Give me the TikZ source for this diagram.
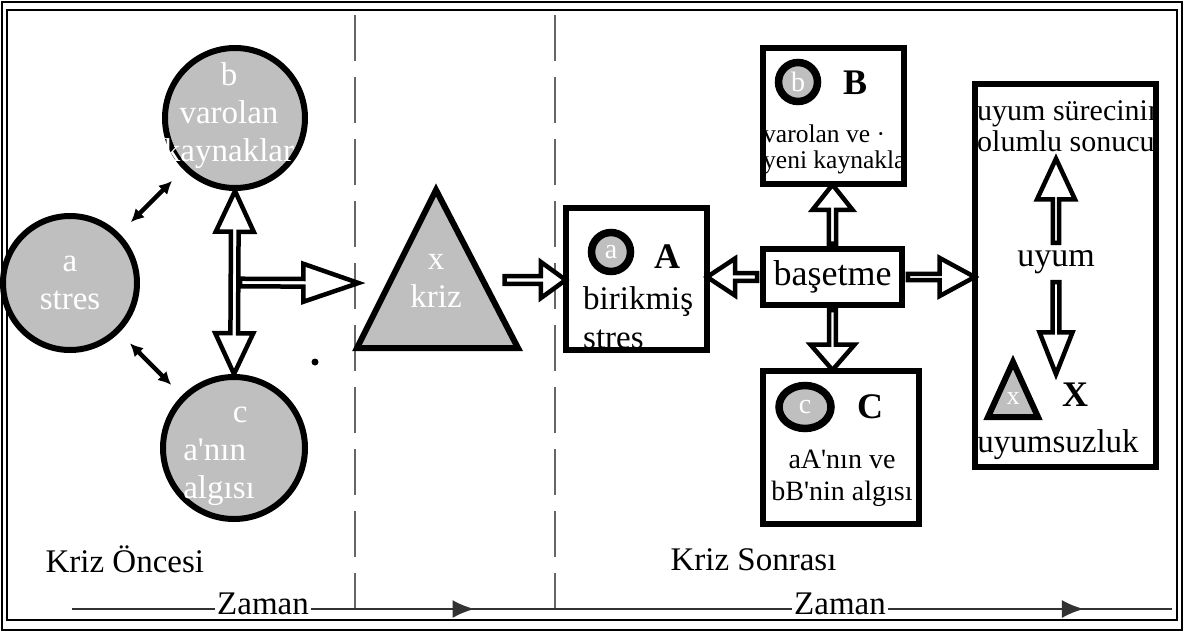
\documentclass[tikz,border=0pt]{standalone}
\usepackage{fontspec}
\setmainfont{Liberation Serif}
\usepackage{tikz}
\usetikzlibrary{shapes.geometric, shapes.arrows, arrows.meta, decorations.markings, calc, positioning}

\newcommand{\apos}{\textquotesingle}

% mũi tên rỗng nối hai điểm
\newcommand{\blockarrow}[3][]{%
  \path let \p1=(#2), \p2=(#3), \n1={veclen(\x2-\x1,\y2-\y1)} in
    (\p1) -- (\p2) node[hollow, midway, sloped, minimum height=\n1, #1] {};}

\tikzset{
  ball/.style={circle, draw, line width=6pt, fill=gray!50, inner sep=0pt},
  balltext/.style={text=white, align=center, font=\fontsize{33}{38}\selectfont},
  smallball/.style={circle, draw, line width=7.5pt, fill=gray!50, inner sep=0pt, minimum size=39pt, text=white, font=\fontsize{28}{30}\selectfont},
  panel/.style={draw, line width=6pt, inner sep=0pt},
  caption/.style={font=\fontsize{33}{38}\selectfont},
  bigletter/.style={font=\fontsize{36}{40}\selectfont\bfseries},
  hollow/.style={single arrow, draw, line width=4.5pt, fill=white, inner sep=0pt, allow upside down},
  smallarrow/.style={line width=4.5pt, {Latex[length=13pt,width=13pt]}-{Latex[length=13pt,width=13pt]}},
  timeline/.style={line width=2.5pt, draw=black!80},
  sepline/.style={line width=2.5pt, draw=black!60, dash pattern=on 46pt off 16pt},
}

\begin{document}
\begin{tikzpicture}[x=1pt, y=-1pt]

    \useasboundingbox (0,0) rectangle (1188,632);

    % Vẽ khung
    \draw[line width=2pt] (2,2) rectangle (1182,630);
    \draw[line width=1.5pt] (7,10) rectangle (1177,620);

    % Đường phân cách
    \draw[sepline] (355,15) -- (355,609);
    \draw[sepline] (555,15) -- (555,609);

    % Trục thời gian
    \coordinate (t0) at (72,609);
    \coordinate (t1) at (1172,609);
    \node[caption, anchor=base, inner sep=2pt] (zaman1) at (263,614) {Zaman};
    \node[caption, anchor=base, inner sep=2pt] (zaman2) at (840,614) {Zaman};
    \draw[timeline] (t0) -- (t0 -| zaman1.west);
    \draw[timeline, postaction={decorate}, decoration={markings, mark=at position 0.34 with {\arrow{Latex[length=22pt,width=18pt]}}}] (zaman1.east |- t0) -- (zaman2.west |- t0);
    \draw[timeline, postaction={decorate}, decoration={markings, mark=at position 0.69 with {\arrow{Latex[length=22pt,width=18pt]}}}] (zaman2.east |- t0) -- (t1);

    \node[caption, anchor=base west] (once) at (42,572) {Kriz Öncesi};
    \node[caption, anchor=base west] (sonra) at (667,570) {Kriz Sonrası};

    % Các hình tròn a, b, c
    \node[ball, minimum size=134pt] (a) at (70,283) {};
    \node[balltext] (atxt) at (a) {a\\stres};
    \node[ball, minimum size=140pt] (b) at (235,118) {};
    \node[balltext] (btxt) at (229,116) {b\\varolan\\kaynaklar};
    \node[ball, minimum size=142pt] (c) at (234,448) {};
    \node[balltext, align=left] (ctxt) at (219,456) {\hspace*{1.5em}c\\a\apos nın\\algısı};

    \draw[smallarrow, shorten <=16pt, shorten >=16pt] (a) -- (b);
    \draw[smallarrow, shorten <=15pt, shorten >=15pt] (a) -- (c);
    \fill (315,362) circle (3.5pt);

    % Tam giác kriz
    \coordinate (kx1) at (357,348);
    \coordinate (kx2) at (436,190);
    \coordinate (kx3) at (518,348);
    \draw[line width=6pt, fill=gray!50] (kx1) -- (kx2) -- (kx3) -- cycle;
    \node[balltext] (kriz) at (436,281) {x\\kriz};
    \coordinate (kline) at (353,283);
    \coordinate (kout) at (502,280);

    % Hộp A
    \node[panel, minimum width=141pt, minimum height=142pt] (boxA) at (636.5,279) {};
    \node[smallball] (ballA) at (611,252) {a};
    \node[bigletter] (letA) at (667,257) {A};
    \node[font=\fontsize{33}{39}\selectfont, align=left, anchor=north west, inner sep=0pt] (txtA) at (583,286) {birikmiş\\stres};

    % Hộp B
    \begin{scope}
      \clip (763,48) rectangle (904,184);
      \node[font=\fontsize{25.5}{26}\selectfont, align=left, anchor=north west, inner sep=0pt] (txtB) at (763,125) {varolan ve ·\\yeni kaynaklar};
    \end{scope}
    \node[panel, minimum width=141pt, minimum height=136pt] (boxB) at (833.5,116) {};
    \node[smallball] (ballB) at (798,82) {b};
    \node[bigletter] (letB) at (855,83) {B};

    % Hộp C
    \node[panel, minimum width=156pt, minimum height=153pt] (boxC) at (841,447.5) {};
    \node[smallball, ellipse, minimum width=52pt, minimum height=43pt] (ballC) at (805,407) {c};
    \node[bigletter] (letC) at (870,407) {C};
    \node[font=\fontsize{28}{32}\selectfont, align=center] (txtC) at (842,478) {aA\apos nın ve\\bB\apos nin algısı};

    % Başetme
    \node[panel, minimum width=139pt, minimum height=56pt, font=\fontsize{36}{40}\selectfont] (bas) at (832.5,277) {başetme};

    % Hộp uyum
    \begin{scope}
      \clip (975,84) rectangle (1155,467);
      \node[font=\fontsize{30}{31}\selectfont, align=left, anchor=north west, inner sep=0pt] (sonuc) at (977,100) {uyum sürecinin\\olumlu sonucu};
    \end{scope}
    \node[panel, line width=6.5pt, minimum width=181pt, minimum height=383pt] (uyumbox) at (1065.5,275.5) {};
    \node[font=\fontsize{34}{38}\selectfont, inner sep=4pt] (uyum) at (1056,262) {uyum};
    \coordinate (sonucfoot) at (1056,162);
    \coordinate (xtop) at (1056,370);
    \coordinate (ux1) at (988,417);
    \coordinate (ux2) at (1013,362);
    \coordinate (ux3) at (1038,417);
    \draw[line width=6pt, fill=gray!50] (ux1) -- (ux2) -- (ux3) -- cycle;
    \node[text=white, font=\fontsize{26}{28}\selectfont] (uxtxt) at (1013,399) {x};
    \node[bigletter] (letX) at (1075,395) {X};
    \node[caption] (uyumsuz) at (1058,445) {uyumsuzluk};

    % Mũi tên
    \blockarrow[name=bcarrow, shape=double arrow, minimum width=38pt, double arrow head extend=9pt, double arrow tip angle=50]{b.south}{c.north}
    \blockarrow[name=tokriz, minimum width=38pt, single arrow head extend=9pt, single arrow tip angle=38]{bcarrow.center}{kline}
    \blockarrow[name=toA, minimum width=36pt, single arrow head extend=8pt, single arrow tip angle=72]{kout}{kout -| boxA.west}
    \blockarrow[name=backA, minimum width=37pt, single arrow head extend=8.5pt, single arrow tip angle=67]{bas.west}{bas.west -| boxA.east}
    \blockarrow[name=toB, minimum width=40pt, single arrow head extend=10pt, single arrow tip angle=77]{bas.north}{bas.north |- boxB.south}
    \blockarrow[name=toC, minimum width=44pt, single arrow head extend=12pt, single arrow tip angle=82]{bas.south}{bas.south |- boxC.north}
    \blockarrow[name=toUyum, minimum width=38pt, single arrow head extend=11pt, single arrow tip angle=57]{bas.east}{bas.east -| uyumbox.west}
    \blockarrow[name=toSonuc, minimum width=38pt, single arrow head extend=11.5pt, single arrow tip angle=50]{uyum.north}{sonucfoot}
    \blockarrow[name=toX, minimum width=33pt, single arrow head extend=9pt, single arrow tip angle=43]{uyum.south}{xtop}

\end{tikzpicture}
\end{document}
